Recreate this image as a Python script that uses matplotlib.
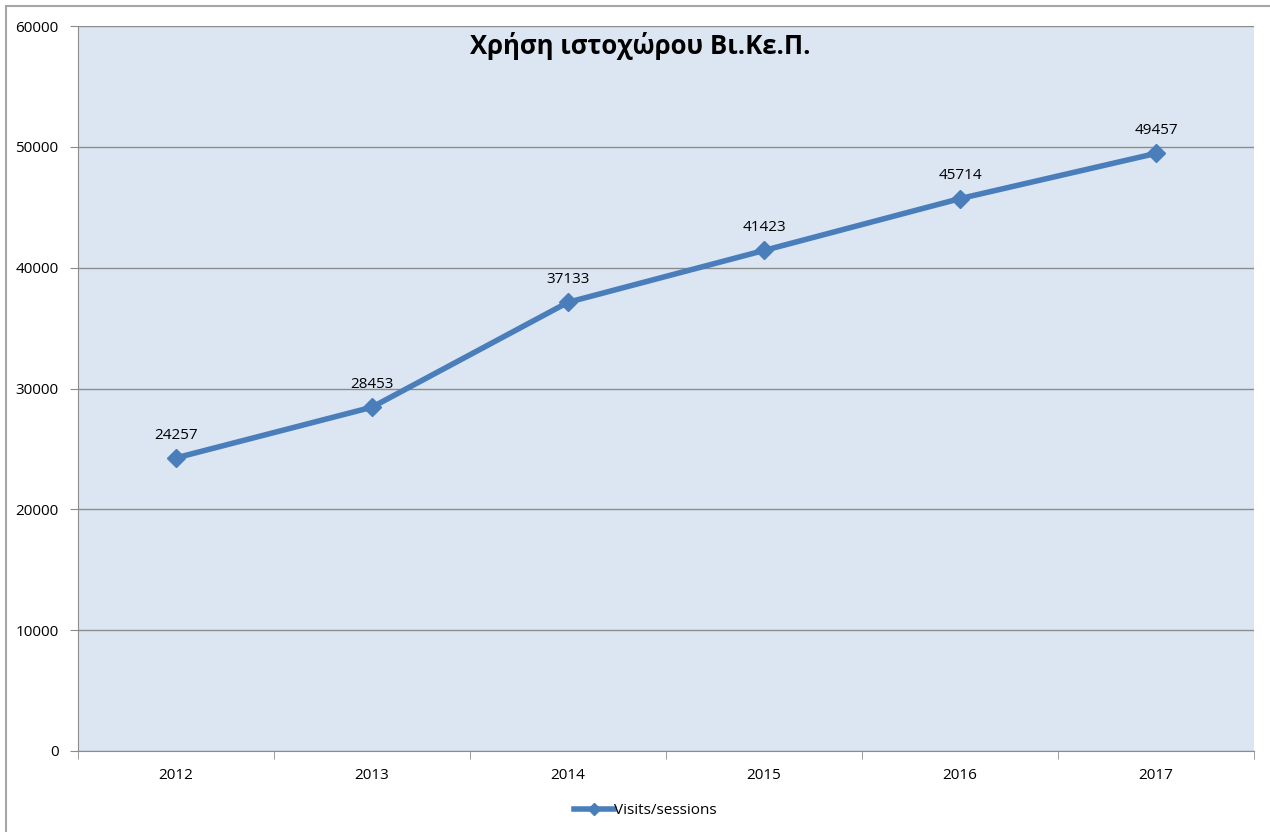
import matplotlib.pyplot as plt
from matplotlib.patches import Rectangle
from matplotlib.lines import Line2D

years = ['2012', '2013', '2014', '2015', '2016', '2017']
visits = [24257, 28453, 37133, 41423, 45714, 49457]

plt.rcParams['font.family'] = ['Open Sans', 'DejaVu Sans']

fig = plt.figure(figsize=(12.7, 8.32), dpi=100)
ax = fig.add_axes([78 / 1270, 1 - 751 / 832, (1254 - 78) / 1270, (751 - 26) / 832])

# outer chart border (only top and left edges fall inside the image)
fig.patches.append(Rectangle((6 / 1270, -0.2), 1.2, 1.2 - 6 / 832, transform=fig.transFigure,
                             fill=False, edgecolor='#a6a6a6', linewidth=1.5))

ax.set_facecolor('#dce6f2')
x = list(range(len(years)))
ax.plot(x, visits, color='#4a7ebb', linewidth=4, marker='D', markersize=9,
        label='Visits/sessions', zorder=3)

for xi, v in zip(x, visits):
    ax.annotate(str(v), (xi, v), xytext=(0, 11), textcoords='offset points',
                ha='center', va='bottom', fontsize=11, color='black')

ax.set_ylim(0, 60000)
ax.set_yticks(range(0, 60001, 10000))
ax.set_xlim(-0.5, len(years) - 0.5)
ax.set_xticks(x)
ax.set_xticklabels(years)
ax.set_xticks([i - 0.5 for i in range(len(years) + 1)], minor=True)
ax.tick_params(axis='x', which='major', length=0, pad=12, labelsize=11)
ax.tick_params(axis='x', which='minor', length=6, color='#8c8c8c')
ax.tick_params(axis='y', length=6, color='#8c8c8c', labelsize=11, pad=8)
ax.grid(axis='y', color='#8c8c8c', linewidth=1)
ax.set_axisbelow(True)
for s in ['top', 'right']:
    ax.spines[s].set_visible(False)
for s in ['left', 'bottom']:
    ax.spines[s].set_color('#8c8c8c')

fig.text(0.504, 1 - 46 / 832, 'Χρήση ιστοχώρου Βι.Κε.Π.', ha='center', va='center',
         fontsize=18.5, fontweight='bold')

handle = Line2D([], [], color='#4a7ebb', linewidth=4, marker='D', markersize=6)
fig.legend([handle], ['Visits/sessions'], loc='center', bbox_to_anchor=(0.508, 1 - 811 / 832),
           frameon=False, fontsize=11, handlelength=2.6, handletextpad=0)

fig.savefig('out.png', dpi=100)
